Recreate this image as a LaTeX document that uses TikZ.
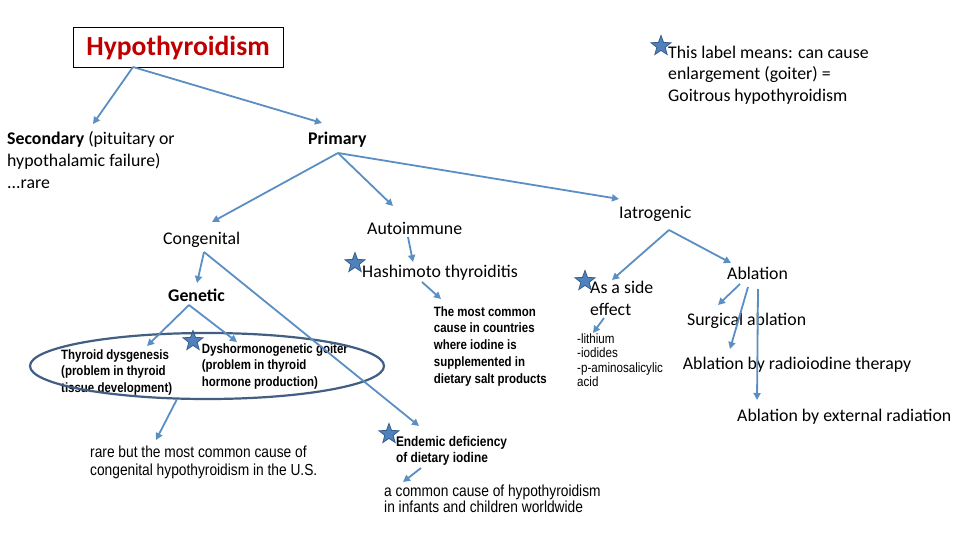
\documentclass[tikz,border=0pt]{standalone}
\usepackage{fontspec}
\setmainfont{Carlito}
\newfontfamily\narrowfont[FakeStretch=0.86]{Liberation Sans}
\newfontfamily\narrowbfont[FakeStretch=0.85]{Liberation Sans}
\usetikzlibrary{arrows.meta,shapes.geometric}
\definecolor{arrowc}{RGB}{91,142,194}
\definecolor{ellc}{RGB}{65,95,130}
\definecolor{starfill}{RGB}{79,129,189}
\definecolor{starline}{RGB}{56,93,138}
\definecolor{titlered}{RGB}{192,0,0}
\tikzset{
  arr/.style={draw=arrowc, line width=1.8pt, -{Triangle[length=7pt,width=7pt]}},
  lbl/.style={anchor=base west, inner sep=0pt, align=left, font=\fontsize{17.8}{21.7}\selectfont},
  lblb/.style={lbl, font=\fontsize{17.8}{21.7}\selectfont\bfseries},
  smallb/.style={anchor=base west, inner sep=0pt, align=left, font=\narrowbfont\bfseries\fontsize{13.5}{16.8}\selectfont},
  smallr/.style={anchor=base west, inner sep=0pt, align=left, font=\narrowfont\fontsize{13.5}{14.5}\selectfont},
  narrowtxt/.style={anchor=base west, inner sep=0pt, align=left, font=\narrowfont\fontsize{16}{17.2}\selectfont},
  starmark/.style={star, star points=5, star point ratio=2.4, fill=starfill, draw=starline, line width=0.8pt, minimum size=21pt, inner sep=0pt},
}
\begin{document}
\begin{tikzpicture}[x=1pt,y=-1pt]
\useasboundingbox (0,0) rectangle (960,540);
\fill[white] (0,0) rectangle (960,540);

% title box
\node[draw=black, line width=0.8pt, minimum width=210pt, minimum height=40pt, inner sep=0pt,
      text height=18pt, text depth=1.4pt, text=titlered, font=\fontsize{27.6}{30}\selectfont\bfseries]
      (hypo) at (178,47) {Hypothyroidism};

% legend (multi-line nodes: base = baseline of last line)
\node[starmark] (starleg) at (661,46) {};
\node[lbl] (leg) at (668,101.7) {This label means: can cause\\enlargement (goiter) =\\Goitrous hypothyroidism};

% texts
\node[lbl] (sec) at (7,188) {\textbf{Secondary} (pituitary or\\hypothalamic failure)\\...rare};
\node[lblb] (prim) at (308,144.7) {Primary};
\node[lbl] (cong) at (163,244) {Congenital};
\node[lbl] (auto) at (367,234) {Autoimmune};
\node[lbl] (iatro) at (619,218.3) {Iatrogenic};
\node[lbl] (hash) at (362,277.7) {Hashimoto thyroiditis};
\node[lblb] (gen) at (168,301.7) {Genetic};
\node[lbl] (side) at (590,315) {As a side\\effect};
\node[lbl] (abl) at (727,279.3) {Ablation};
\node[lbl] (surg) at (687,325) {Surgical ablation};
\node[lbl] (radio) at (682.7,369.3) {Ablation by radioiodine therapy};
\node[lbl] (ext) at (737,421) {Ablation by external radiation};

\node[smallb] (dysg) at (61,392.7) {Thyroid dysgenesis\\(problem in thyroid\\tissue development)};
\node[smallb] (dysh) at (201.7,386.7) {Dyshormonogenetic goiter\\(problem in thyroid\\hormone production)};
\node[smallb] (most) at (433.7,383.3) {The most common\\cause in countries\\where iodine is\\supplemented in\\dietary salt products};
\node[smallr] (drugs) at (577,386.7) {-lithium\\-iodides\\-p-aminosalicylic\\acid};
\node[narrowtxt] (rare) at (90,475) {rare but the most common cause of\\congenital hypothyroidism in the U.S.};
\node[anchor=base west, inner sep=0pt, align=left, font=\narrowbfont\bfseries\fontsize{14}{16}\selectfont] (endem) at (395.8,462.7) {Endemic deficiency\\of dietary iodine};
\node[narrowtxt, font=\narrowfont\fontsize{16}{16.7}\selectfont] (comm) at (384,512.7) {a common cause of hypothyroidism\\in infants and children worldwide};

% stars
\node[starmark] (starhash) at (355,263) {};
\node[starmark] (starside) at (585,281) {};
\node[starmark] (stardysh) at (193,341) {};
\node[starmark] (starendem) at (389,434) {};

% ellipse grouping
\node[draw=ellc, line width=2.2pt, ellipse, minimum width=354pt, minimum height=66pt, inner sep=0pt] (grp) at (207,366) {};

% connector end points
\coordinate (hypoout) at (133,67);
\coordinate (secin) at (93,124);
\coordinate (primin) at (322,123);
\coordinate (primout) at (338,153);
\coordinate (congin) at (212,222);
\coordinate (autoin) at (393,206);
\coordinate (iatroin) at (619,199);
\coordinate (congout) at (204,252);
\coordinate (genin) at (197,283);
\coordinate (endemin) at (419,426);
\coordinate (genout) at (189,305);
\coordinate (dysgin) at (147,346);
\coordinate (dyshin) at (237,342);
\coordinate (autoout) at (408,237);
\coordinate (hashin) at (413,262);
\coordinate (hashout) at (422,282);
\coordinate (mostin) at (441,299);
\coordinate (iatroout) at (669,230);
\coordinate (sidein) at (612,280);
\coordinate (ablin) at (731,263);
\coordinate (sideout) at (604,318);
\coordinate (drugsin) at (593,333);
\coordinate (ablout1) at (740,284);
\coordinate (surgin) at (718,305);
\coordinate (ablout2) at (748,287);
\coordinate (radioin) at (730,349);
\coordinate (ablout3) at (758,289);
\coordinate (extin) at (757,400);
\coordinate (rarein) at (156,440);
\coordinate (endemout) at (421,468);
\coordinate (commin) at (403,482);

% connectors
\draw[arr] (hypoout) -- (secin);
\draw[arr] (hypoout) -- (primin);
\draw[arr] (primout) -- (congin);
\draw[arr] (primout) -- (autoin);
\draw[arr] (primout) -- (iatroin);
\draw[arr] (congout) -- (genin);
\draw[arr] (congout) -- (endemin);
\draw[arr] (genout) -- (dysgin);
\draw[arr] (genout) -- (dyshin);
\draw[arr] (autoout) -- (hashin);
\draw[arr] (hashout) -- (mostin);
\draw[arr] (iatroout) -- (sidein);
\draw[arr] (iatroout) -- (ablin);
\draw[arr] (sideout) -- (drugsin);
\draw[arr] (ablout1) -- (surgin);
\draw[arr] (ablout2) -- (radioin);
\draw[arr] (ablout3) -- (extin);
\draw[arr] (grp.228) -- (rarein);
\draw[arr] (endemout) -- (commin);
\end{tikzpicture}
\end{document}
